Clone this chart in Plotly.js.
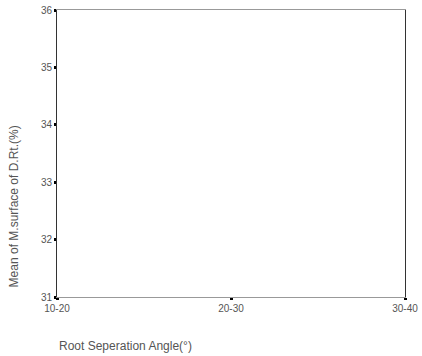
<!DOCTYPE html>
<html><head><meta charset="utf-8">
<script src="https://cdn.plot.ly/plotly-3.0.1.min.js"></script>
<style>html,body{margin:0;padding:0;background:#fff}#c{width:422px;height:356px}</style>
</head><body><div id="c"></div>
<script>
const categories = ['10-20', '20-30', '30-40'];
const meanValues = [null, null, null];
const yTicks = [31, 32, 33, 34, 35, 36];
const xTitle = 'Root Seperation Angle(°)';
const yTitle = 'Mean of M.surface of D.Rt.(%)';

const font = {family: 'Liberation Sans, Arial, sans-serif', size: 10, color: '#555'};
const titleFont = {family: 'Liberation Sans, Arial, sans-serif', size: 12, color: '#555'};
Plotly.newPlot('c', [{
  x: categories, y: meanValues, type: 'scatter', mode: 'lines',
  line: {color: '#000', width: 1}, showlegend: false, hoverinfo: 'skip'
}], {
  width: 422, height: 356,
  margin: {l: 57, r: 17, t: 10, b: 59},
  paper_bgcolor: '#fff', plot_bgcolor: '#fff',
  font: font,
  showlegend: false,
  xaxis: {
    type: 'category', range: [0, 2], showgrid: false, zeroline: false,
    showline: true, mirror: true, linecolor: '#999', linewidth: 1,
    ticks: 'outside', ticklen: 2, tickwidth: 3, tickcolor: '#000',
    tickfont: font, automargin: false
  },
  yaxis: {
    range: [31, 36], tickvals: yTicks, ticktext: yTicks.map(String),
    showgrid: false, zeroline: false,
    showline: true, mirror: true, linecolor: '#333', linewidth: 1,
    ticks: 'outside', ticklen: 2, tickwidth: 3, tickcolor: '#000',
    tickfont: font, automargin: false
  },
  annotations: [
    {text: xTitle, xref: 'paper', yref: 'paper', x: 0.0, y: -0.172, xanchor: 'left', yanchor: 'middle',
     showarrow: false, font: titleFont},
    {text: yTitle, xref: 'paper', yref: 'paper', x: -0.125, y: 0.314, xanchor: 'center', yanchor: 'middle',
     textangle: -90, showarrow: false, font: titleFont}
  ]
}, {displayModeBar: false, staticPlot: true});
</script></body></html>
